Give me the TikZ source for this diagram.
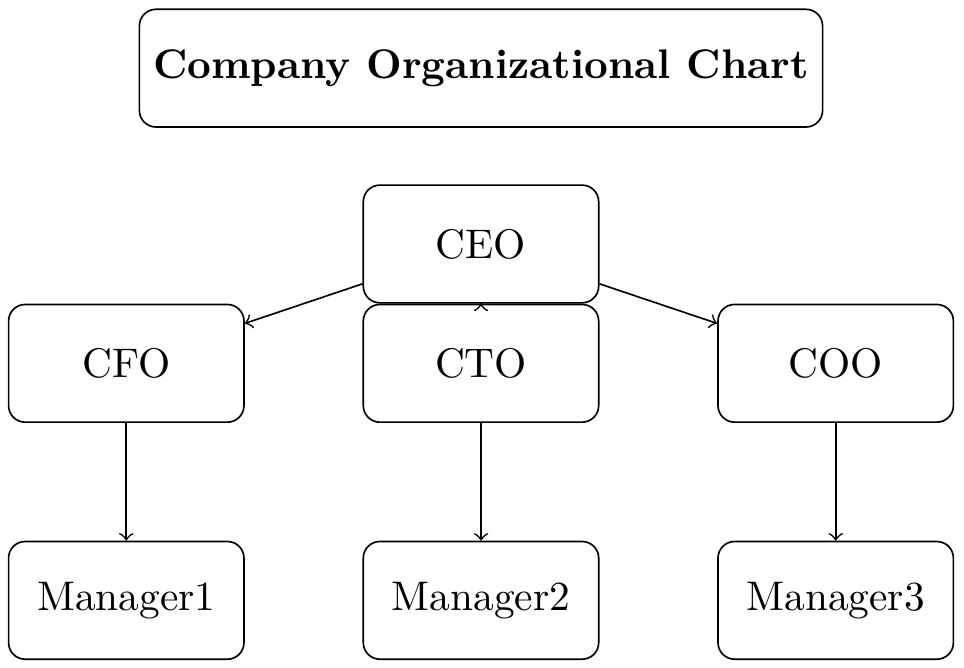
\documentclass[tikz,border=0pt]{standalone}
\usepackage{tikz}
\usetikzlibrary{positioning}

\begin{document}
\begin{tikzpicture}[
  node distance=1cm and 1cm,
  role/.style={draw, rounded corners, minimum width=2cm, minimum height=1cm,
               align=center},
  headline/.style={draw, rounded corners, minimum height=1cm, font=\bfseries},
  arr/.style={->}
]
\useasboundingbox (-4.087,-3.602) rectangle (4.104,2.073);
\node[role] (ceo) {CEO};
\node[headline, above=0.48cm of ceo] (title) {Company Organizational Chart};
\node[role, below=0cm of ceo] (cto) {CTO};
\node[role, left=of cto] (cfo) {CFO};
\node[role, right=of cto] (coo) {COO};
\node[role, below=of cfo] (mgr1) {Manager1};
\node[role, below=of cto] (mgr2) {Manager2};
\node[role, below=of coo] (mgr3) {Manager3};

\draw[arr] (ceo) -- (cfo);
\draw[arr] (ceo) -- (cto);
\draw[arr] (ceo) -- (coo);
\draw[arr] (cfo) -- (mgr1);
\draw[arr] (cto) -- (mgr2);
\draw[arr] (coo) -- (mgr3);
\end{tikzpicture}
\end{document}
